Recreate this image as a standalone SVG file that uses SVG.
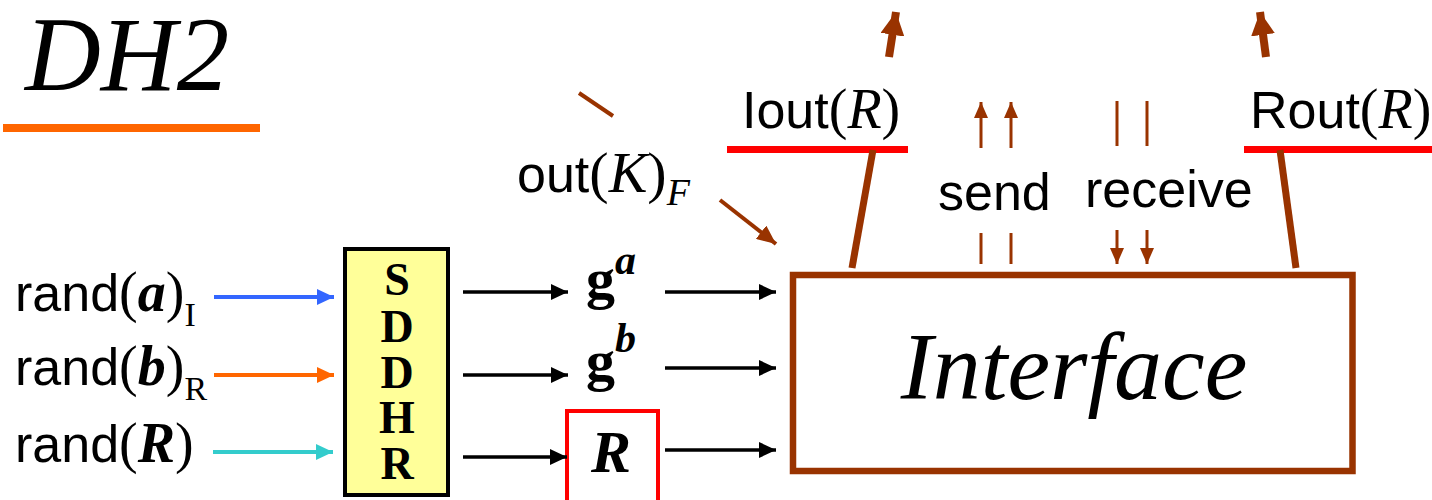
<svg xmlns="http://www.w3.org/2000/svg" width="1432" height="500" viewBox="0 0 1432 500">
<style>
.sans{font-family:"Liberation Sans",Arial,sans-serif;font-size:52px;fill:#000}
.ser{font-family:"Liberation Serif","Times New Roman",serif;fill:#000}
.it{font-style:italic}
.bd{font-weight:bold}
.conn line{fill:none}
.blk{stroke:#000;stroke-width:3.5}
.brn{stroke:#993300}
</style>
<defs>
<marker id="mBlue" markerUnits="userSpaceOnUse" markerWidth="17" markerHeight="16" refX="17" refY="8" orient="auto"><path d="M0,0 L17,8 L0,16 z" fill="#3366FF"/></marker>
<marker id="mOrange" markerUnits="userSpaceOnUse" markerWidth="17" markerHeight="16" refX="17" refY="8" orient="auto"><path d="M0,0 L17,8 L0,16 z" fill="#FF6600"/></marker>
<marker id="mCyan" markerUnits="userSpaceOnUse" markerWidth="17" markerHeight="16" refX="17" refY="8" orient="auto"><path d="M0,0 L17,8 L0,16 z" fill="#33CCCC"/></marker>
<marker id="mBlack" markerUnits="userSpaceOnUse" markerWidth="17" markerHeight="16" refX="17" refY="8" orient="auto"><path d="M0,0 L17,8 L0,16 z" fill="#000"/></marker>
<marker id="mBrS" markerUnits="userSpaceOnUse" markerWidth="16" markerHeight="14" refX="16" refY="7" orient="auto"><path d="M0,0 L16,7 L0,14 z" fill="#993300"/></marker>
<marker id="mBrM" markerUnits="userSpaceOnUse" markerWidth="19" markerHeight="17" refX="19" refY="8.5" orient="auto"><path d="M0,0 L19,8.5 L0,17 z" fill="#993300"/></marker>
<marker id="mBrL" markerUnits="userSpaceOnUse" markerWidth="23" markerHeight="24" refX="23" refY="12" orient="auto"><path d="M0,0 L23,12 L0,24 z" fill="#993300"/></marker>
</defs>

<g id="title">
<text x="25" y="90" class="ser it" font-size="105">DH2</text>
<rect x="3" y="124" width="257" height="8" fill="#FF6600"/>
</g>

<g id="randA">
<text x="15" y="311" class="sans">rand<tspan class="ser" font-size="56">(<tspan class="bd it">a</tspan>)</tspan><tspan class="ser" font-size="34" dy="15">I</tspan></text>
</g>
<g id="randB">
<text x="15" y="385" class="sans">rand<tspan class="ser" font-size="56">(<tspan class="bd it">b</tspan>)</tspan><tspan class="ser" font-size="34" dy="15">R</tspan></text>
</g>
<g id="randR">
<text x="15" y="462" class="sans">rand<tspan class="ser" font-size="56">(<tspan class="bd it">R</tspan>)</tspan></text>
</g>

<g id="sddhr">
<rect x="345" y="249" width="103" height="246" fill="#FFFF99" stroke="#000" stroke-width="4"/>
<text class="ser bd" font-size="46" text-anchor="middle">
<tspan x="397" y="295">S</tspan><tspan x="397" y="342">D</tspan><tspan x="397" y="388">D</tspan><tspan x="397" y="433">H</tspan><tspan x="397" y="479">R</tspan>
</text>
</g>

<g id="ga">
<text x="586" y="298" class="ser bd" font-size="58">g<tspan class="it" font-size="42" dy="-24">a</tspan></text>
</g>
<g id="gb">
<text x="586" y="380" class="ser bd" font-size="58">g<tspan class="it" font-size="42" dy="-28">b</tspan></text>
</g>
<g id="rbox">
<rect x="567" y="411" width="91" height="100" fill="#fff" stroke="#FF0000" stroke-width="4"/>
<text x="611" y="472" class="ser bd it" font-size="60" text-anchor="middle">R</text>
</g>

<g id="outK">
<text x="517" y="192" class="sans">out<tspan class="ser" font-size="58">(<tspan class="it">K</tspan>)</tspan><tspan class="ser it" font-size="38" dy="13">F</tspan></text>
</g>

<g id="interface">
<rect x="793" y="275" width="559.5" height="196" fill="none" stroke="#993300" stroke-width="6.5"/>
<text x="1074" y="399" class="ser it" font-size="96" text-anchor="middle">Interface</text>
</g>

<g id="iout">
<text x="742" y="128" class="sans">Iout<tspan class="ser" font-size="56">(<tspan class="it">R</tspan>)</tspan></text>
<rect x="727" y="146" width="181" height="7" fill="#FF0000"/>
</g>
<g id="rout">
<text x="1250" y="128" class="sans">Rout<tspan class="ser" font-size="56">(<tspan class="it">R</tspan>)</tspan></text>
<rect x="1244" y="146" width="188" height="7" fill="#FF0000"/>
</g>

<g id="send"><text x="938" y="210" class="sans">send</text></g>
<g id="receive"><text x="1085" y="207" class="sans">receive</text></g>

<g id="connectors" class="conn">
<line x1="214" y1="297" x2="334" y2="297" stroke="#3366FF" stroke-width="4" marker-end="url(#mBlue)"/>
<line x1="214" y1="375" x2="334" y2="375" stroke="#FF6600" stroke-width="4" marker-end="url(#mOrange)"/>
<line x1="213" y1="452" x2="333" y2="452" stroke="#33CCCC" stroke-width="4" marker-end="url(#mCyan)"/>

<line class="blk" x1="463" y1="292" x2="568" y2="292" marker-end="url(#mBlack)"/>
<line class="blk" x1="463" y1="375" x2="568" y2="375" marker-end="url(#mBlack)"/>
<line class="blk" x1="463" y1="457" x2="567" y2="457" marker-end="url(#mBlack)"/>
<line class="blk" x1="665" y1="292" x2="776" y2="292" marker-end="url(#mBlack)"/>
<line class="blk" x1="665" y1="368" x2="776" y2="368" marker-end="url(#mBlack)"/>
<line class="blk" x1="665" y1="450" x2="776" y2="450" marker-end="url(#mBlack)"/>

<line class="brn" x1="579" y1="93" x2="613" y2="116" stroke-width="4"/>
<line class="brn" x1="720" y1="200" x2="776" y2="244" stroke-width="4" marker-end="url(#mBrM)"/>

<line class="brn" x1="852" y1="268" x2="873" y2="150" stroke-width="7"/>
<line class="brn" x1="1296" y1="268" x2="1280" y2="150" stroke-width="7"/>
<line class="brn" x1="889" y1="57" x2="896" y2="12" stroke-width="8" marker-end="url(#mBrL)"/>
<line class="brn" x1="1266" y1="57" x2="1260" y2="12" stroke-width="8" marker-end="url(#mBrL)"/>

<line class="brn" x1="981" y1="148" x2="981" y2="102" stroke-width="3" marker-end="url(#mBrS)"/>
<line class="brn" x1="1011" y1="148" x2="1011" y2="102" stroke-width="3" marker-end="url(#mBrS)"/>
<line class="brn" x1="981" y1="233" x2="981" y2="264" stroke-width="3"/>
<line class="brn" x1="1011" y1="233" x2="1011" y2="264" stroke-width="3"/>
<line class="brn" x1="1117" y1="101" x2="1117" y2="146" stroke-width="3"/>
<line class="brn" x1="1147" y1="101" x2="1147" y2="146" stroke-width="3"/>
<line class="brn" x1="1117" y1="230" x2="1117" y2="264" stroke-width="3" marker-end="url(#mBrS)"/>
<line class="brn" x1="1147" y1="230" x2="1147" y2="264" stroke-width="3" marker-end="url(#mBrS)"/>
</g>
</svg>
